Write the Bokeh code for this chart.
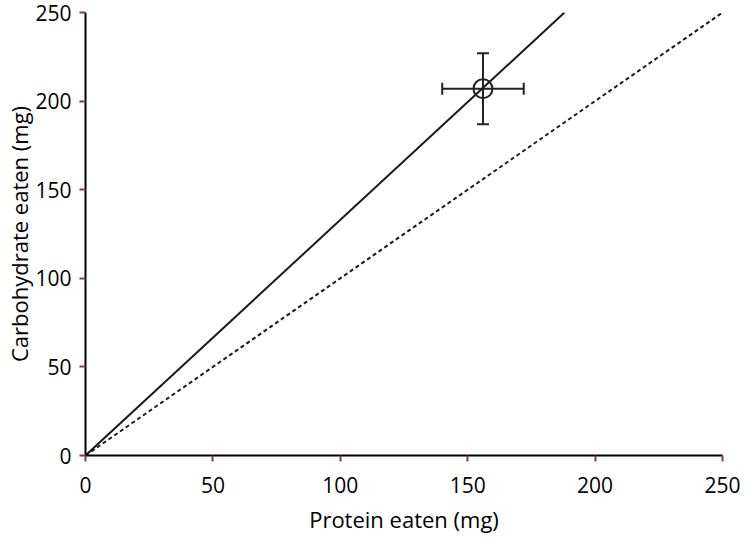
from bokeh.plotting import figure
from bokeh.models import Range1d, FixedTicker, Whisker, TeeHead, ColumnDataSource
from bokeh.embed import file_html
from bokeh.resources import INLINE

# data
solid_x = [0, 188]
solid_y = [0, 250]
dotted_x = [0, 250]
dotted_y = [0, 250]
point_x = [156]
point_y = [207]
err_x = [16]
err_y = [20]
ticks = [0, 50, 100, 150, 200, 250]

FONT = "Open Sans"
TICKCOL = "#7a3b6b"

p = figure(width=746, height=538, output_backend="svg", toolbar_location=None,
           x_range=Range1d(0, 250), y_range=Range1d(0, 250),
           min_border_left=85, min_border_right=24, min_border_top=12, min_border_bottom=83)
p.outline_line_color = None
p.grid.visible = False

for ax in (p.xaxis[0], p.yaxis[0]):
    ax.ticker = FixedTicker(ticks=ticks)
    ax.minor_tick_line_color = None
    ax.major_tick_in = 0
    ax.major_tick_out = 6
    ax.major_tick_line_color = TICKCOL
    ax.major_tick_line_width = 2
    ax.axis_line_color = "black"
    ax.axis_line_width = 2
    ax.major_label_text_font = FONT
    ax.major_label_text_font_size = "21px"
    ax.major_label_text_color = "black"
    ax.axis_label_text_font = FONT
    ax.axis_label_text_font_size = "22px"
    ax.axis_label_text_font_style = "normal"
    ax.axis_label_text_color = "black"

p.xaxis.axis_label = "Protein eaten (mg)"
p.yaxis.axis_label = "Carbohydrate eaten (mg)"
p.xaxis.major_label_standoff = 15
p.yaxis.major_label_standoff = 8
p.xaxis.axis_label_standoff = 8
p.yaxis.axis_label_standoff = -2

p.line(solid_x, solid_y, line_color="#1a1a1a", line_width=2)
p.line(dotted_x, dotted_y, line_color="#1a1a1a", line_width=2, line_dash="4 3")

src = ColumnDataSource(dict(
    x=point_x, y=point_y,
    xl=[a - b for a, b in zip(point_x, err_x)], xu=[a + b for a, b in zip(point_x, err_x)],
    yl=[a - b for a, b in zip(point_y, err_y)], yu=[a + b for a, b in zip(point_y, err_y)],
))
p.add_layout(Whisker(source=src, base="x", lower="yl", upper="yu", dimension="height",
                     line_color="#222222", line_width=2,
                     upper_head=TeeHead(size=12, line_width=2, line_color="#222222"),
                     lower_head=TeeHead(size=12, line_width=2, line_color="#222222")))
p.add_layout(Whisker(source=src, base="y", lower="xl", upper="xu", dimension="width",
                     line_color="#222222", line_width=2,
                     upper_head=TeeHead(size=12, line_width=2, line_color="#222222"),
                     lower_head=TeeHead(size=12, line_width=2, line_color="#222222")))
p.scatter("x", "y", source=src, size=19, fill_color=None, line_color="#222222", line_width=2)

open("out.html", "w").write(file_html(p, INLINE))
